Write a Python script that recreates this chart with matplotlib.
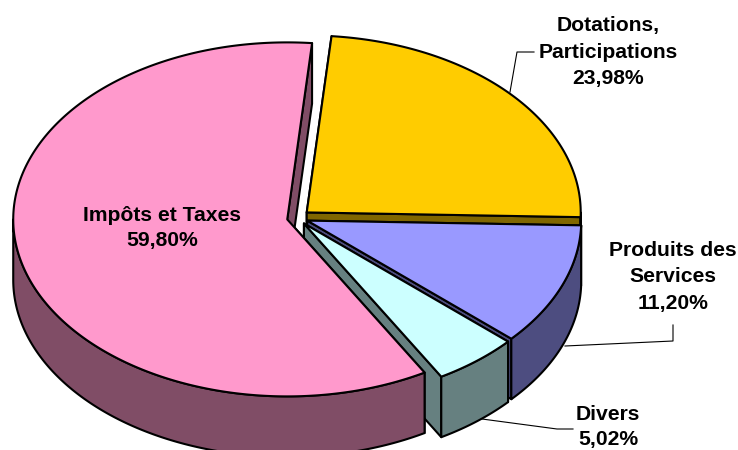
import numpy as np
import matplotlib
matplotlib.use('Agg')
import matplotlib.pyplot as plt

# ------------------------------------------------

values = [23.98, 11.20, 5.02, 59.80]  # clockwise from the top
colors = ['#FFCC00', '#9999FF', '#CCFFFF', '#FF99CC']
sides = ['#806600', '#4D4D80', '#668080', '#804D66']
explode = [13.0, 11.0, 11.0, 10.0]
draw_order = [0, 1, 2, 3]  # back to front

labels = ['Dotations,\nParticipations\n23,98%',
          'Produits des\nServices\n11,20%',
          'Divers\n5,02%',
          'Impôts et Taxes\n59,80%']
label_pos = [(608, 52), (673, 277), (608, 427), (162, 228)]
label_spacing = [1.53, 1.53, 1.45, 1.42]
leaders = [[(510, 92), (517, 52), (534, 52)],
           [(565, 346), (673, 341), (673, 325)],
           [(482, 419), (557, 429), (573, 429)],
           None]

cx, cy = 297.0, 218.0
rx, ry = 274.0, 177.0
depth = 60.5
start = 5.2

# ------------------------------------------------

def arc(t1, t2, ox, oy, dy=0.0):
    t = np.radians(np.linspace(t1, t2, max(int(abs(t2 - t1)) * 2, 2)))
    return np.column_stack((ox + rx * np.sin(t), oy - ry * np.cos(t) + dy))


def draw_slice(ax, t1, t2, ex, top, side):
    mid = np.radians((t1 + t2) / 2)
    ox = cx + ex * np.sin(mid)
    oy = cy - ex * ry / rx * np.cos(mid)
    style = dict(edgecolor='black', linewidth=1.5, joinstyle='round')

    # cut faces
    for t in (t1, t2):
        p = arc(t, t, ox, oy)[0]
        ax.fill([ox, p[0], p[0], ox], [oy, p[1], p[1] + depth, oy + depth], facecolor=side, **style)

    # outer wall, front half only
    a, b = max(t1, 90.0), min(t2, 270.0)
    if b > a:
        up = arc(a, b, ox, oy)
        dn = arc(a, b, ox, oy, depth)[::-1]
        w = np.vstack((up, dn))
        ax.fill(w[:, 0], w[:, 1], facecolor=side, **style)

    # top
    w = np.vstack(([[ox, oy]], arc(t1, t2, ox, oy)))
    ax.fill(w[:, 0], w[:, 1], facecolor=top, **style)


fig = plt.figure(figsize=(7.38, 4.5), dpi=100)
ax = fig.add_axes([0, 0, 1, 1])
ax.set_xlim(0, 738)
ax.set_ylim(450, 0)
ax.axis('off')

bounds = start + np.concatenate(([0], np.cumsum(values))) * 3.6
for i in draw_order:
    draw_slice(ax, bounds[i], bounds[i + 1], explode[i], colors[i], sides[i])

for leader in leaders:
    if leader:
        ax.plot(*zip(*leader), color='black', linewidth=0.8)

for txt, (x, y), ls in zip(labels, label_pos, label_spacing):
    ax.text(x, y, txt, ha='center', va='center', family='Liberation Sans', fontweight='bold',
            fontsize=15.2, linespacing=ls, color='black', clip_on=False)

fig.savefig('out.png', dpi=100)
